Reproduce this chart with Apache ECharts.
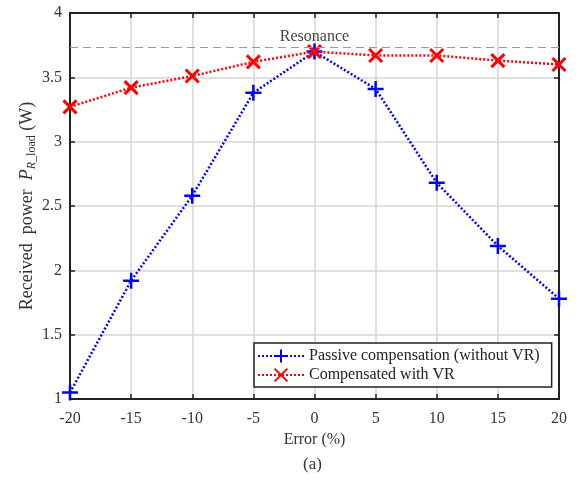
<!DOCTYPE html>
<html>
<head>
<meta charset="utf-8">
<script src="https://cdn.jsdelivr.net/npm/echarts@6/dist/echarts.min.js"></script>
<style>
  html, body { margin: 0; padding: 0; background: #fff; }
  #chart { width: 581px; height: 484px; }
</style>
</head>
<body>
<div id="chart"></div>
<script>
// Frequency error of the compensation (%)
const errors = [-20, -15, -10, -5, 0, 5, 10, 15, 20];
// Received power (W)
const passive = [1.05, 1.92, 2.58, 3.38, 3.70, 3.41, 2.68, 2.19, 1.78];
const withVR = [3.27, 3.42, 3.51, 3.62, 3.70, 3.67, 3.67, 3.63, 3.60];
const resonancePower = 3.73;

const serif = 'Liberation Serif';
const plusPath = 'path://M5,0L5,10M0,5L10,5';
const crossPath = 'path://M0,0L10,10M10,0L0,10';

const chart = echarts.init(document.getElementById('chart'), null, { renderer: 'canvas' });

const axisLine = { show: true, onZero: false, lineStyle: { color: '#222', width: 2 } };
const gridLine = { show: true, lineStyle: { color: '#d6d6d6', width: 1.5 } };
const tickStyle = { show: true, inside: true, length: 5, lineStyle: { color: '#222', width: 1.5 } };

chart.setOption({
  animation: false,
  grid: { left: 70, right: 22, top: 13, bottom: 85, containLabel: false },
  xAxis: [{
    type: 'value', min: -20, max: 20, interval: 5, position: 'bottom',
    axisLine, axisTick: tickStyle, splitLine: gridLine,
    axisLabel: { fontFamily: serif, fontSize: 16, color: '#333', margin: 12 },
    name: 'Error (%)', nameLocation: 'middle', nameGap: 33,
    nameTextStyle: { fontFamily: serif, fontSize: 16, color: '#333' }
  }, {
    type: 'value', min: -20, max: 20, interval: 5, position: 'top',
    axisLine, axisTick: tickStyle, splitLine: { show: false }, axisLabel: { show: false }
  }],
  yAxis: [{
    type: 'value', min: 1, max: 4, interval: 0.5, position: 'left',
    axisLine, axisTick: tickStyle, splitLine: gridLine,
    axisLabel: { fontFamily: serif, fontSize: 16, color: '#333', margin: 8 },
    name: 'Received  power  {i|P}{si|R}{s|_load} (W)',
    nameLocation: 'middle', nameGap: 43, nameRotate: 90, nameMoveOverlap: false,
    nameTextStyle: {
      fontFamily: serif, fontSize: 18, color: '#333', lineHeight: 22, verticalAlign: 'middle',
      rich: {
        i: { fontFamily: serif, fontSize: 18, fontStyle: 'italic', color: '#333', lineHeight: 22, verticalAlign: 'middle' },
        si: { fontFamily: serif, fontSize: 12, fontStyle: 'italic', color: '#333', lineHeight: 12, padding: [10, 0, 0, 0], verticalAlign: 'bottom' },
        s: { fontFamily: serif, fontSize: 12, color: '#333', lineHeight: 12, padding: [10, 0, 0, 0], verticalAlign: 'bottom' }
      }
    }
  }, {
    type: 'value', min: 1, max: 4, interval: 0.5, position: 'right',
    axisLine, axisTick: tickStyle, splitLine: { show: false }, axisLabel: { show: false }
  }],
  legend: {
    orient: 'vertical', left: 254, top: 343,
    backgroundColor: '#fff', borderColor: '#222', borderWidth: 1.5, borderRadius: 0,
    padding: [5, 12, 4, 3], itemGap: 3, itemWidth: 46, itemHeight: 16,
    textStyle: { fontFamily: serif, fontSize: 16, color: '#222' },
    data: ['Passive compensation (without VR)', 'Compensated with VR']
  },
  graphic: [{
    type: 'text', left: 303, top: 456,
    style: { text: '(a)', fontFamily: serif, fontSize: 17, fill: '#333' }
  }],
  series: [{
    name: 'Passive compensation (without VR)',
    type: 'line',
    data: errors.map((e, i) => [e, passive[i]]),
    symbol: plusPath, symbolSize: 16, showAllSymbol: true,
    lineStyle: { color: '#0000ff', width: 2.5, type: [2, 2] },
    itemStyle: { color: '#0000ff', borderColor: '#0000ff', borderWidth: 2.5 },
    z: 3
  }, {
    name: 'Compensated with VR',
    type: 'line',
    data: errors.map((e, i) => [e, withVR[i]]),
    symbol: crossPath, symbolSize: 13, showAllSymbol: true,
    lineStyle: { color: '#ff0000', width: 2.5, type: [2, 2] },
    itemStyle: { color: '#ff0000', borderColor: '#ff0000', borderWidth: 3 },
    markLine: {
      silent: true, symbol: 'none', animation: false,
      lineStyle: { color: '#9a9a9a', width: 1, type: [8, 5] },
      label: { show: true, position: 'middle', formatter: 'Resonance', fontFamily: serif, fontSize: 16, color: '#444', distance: 3 },
      data: [{ yAxis: resonancePower }]
    },
    z: 4
  }]
});
</script>
</body>
</html>
